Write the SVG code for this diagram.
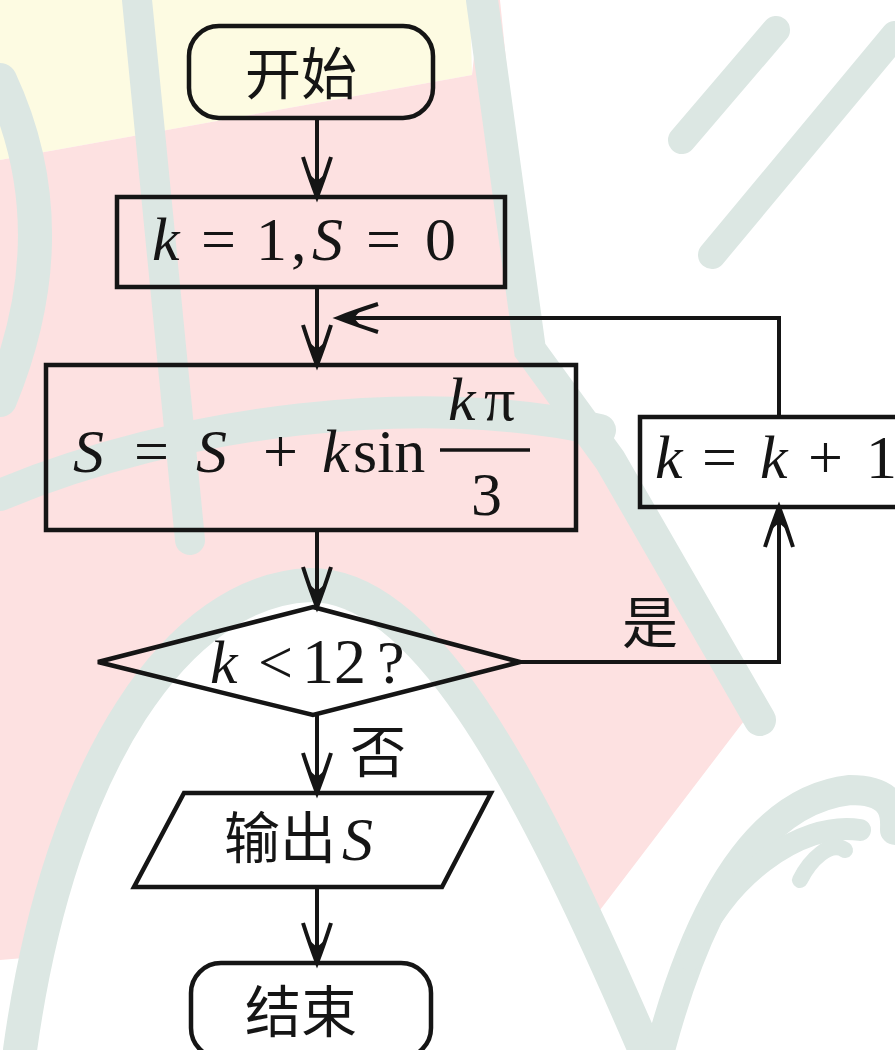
<svg xmlns="http://www.w3.org/2000/svg" width="895" height="1050" viewBox="0 0 895 1050">
<style>
.shape{fill:none;stroke:#151515;stroke-width:4.5;stroke-linejoin:miter}
.conn{fill:none;stroke:#151515;stroke-width:4;marker-end:url(#arr)}
.m{font-family:"Liberation Serif","DejaVu Serif",serif;font-size:62px;fill:#151515}
.i{font-style:italic}
.cjk{font-family:"Noto Sans CJK SC","Noto Sans",sans-serif;font-size:56px;fill:#151515}
.wm{fill:none;stroke:#dce7e3;stroke-linecap:round}
</style>
<defs>
<marker id="arr" markerUnits="userSpaceOnUse" viewBox="-2 -2 46 34" markerWidth="46" markerHeight="34" refX="40" refY="15" orient="auto" overflow="visible">
<path d="M0,1 Q22,8 40,15 Q22,22 0,29" fill="none" stroke="#151515" stroke-width="4"/>
<path d="M40,15 L18,8 L24,15 L18,22 Z" fill="#151515"/>
</marker>
</defs>
<g id="background">
<rect width="895" height="1050" fill="#ffffff"/>
<path d="M0,0 H470 L472,75 L0,160 Z" fill="#fdfbe2"/>
<path d="M0,160 L472,75 L480,0 L500,0 L535,350 L610,450 L760,700 L600,910 L0,960 Z" fill="#fde1e1"/>
<path d="M20,1050 C60,760 180,590 310,585 C420,585 520,760 645,1050 Z" fill="#ffffff"/>
<path class="wm" stroke-width="34" d="M20,1050 C60,760 180,590 310,585 C420,585 520,760 645,1050"/>
<path class="wm" stroke-width="32" d="M0,495 C180,420 420,390 600,430"/>
<path class="wm" stroke-width="30" d="M137,0 L190,540"/>
<path class="wm" stroke-width="32" d="M482,0 L530,350 L610,460 L760,720"/>
<path class="wm" stroke-width="34" d="M0,80 Q70,230 0,400"/>
<path class="wm" stroke-width="28" d="M776,30 L682,140"/>
<path class="wm" stroke-width="28" d="M895,35 L712,255"/>
<path class="wm" stroke-width="30" d="M660,1050 C700,900 760,800 850,790 C900,790 895,820 895,830"/>
<path class="wm" stroke-width="22" d="M690,960 C720,880 800,820 860,830"/>
<path class="wm" stroke-width="16" d="M800,880 C810,860 830,840 845,850"/>
</g>
<g id="connectors">
<path class="conn" d="M317,118 V197"/>
<path class="conn" d="M317,287 V365"/>
<path class="conn" d="M779,417 V318 H338"/>
<path class="conn" d="M317,530 V607"/>
<path class="conn" d="M520,662 H779 V507"/>
<path class="conn" d="M317,715 V793"/>
<path class="conn" d="M317,887 V963"/>
<text class="cjk" x="622" y="643">是</text>
<text class="cjk" x="350" y="772">否</text>
</g>
<g id="start">
<rect class="shape" x="189" y="26" width="244" height="92" rx="30"/>
<text class="cjk" x="245" y="94" font-size="60">开始</text>
</g>
<g id="init">
<rect class="shape" x="117" y="197" width="388" height="90"/>
<text class="m" y="260"><tspan class="i" x="152">k</tspan><tspan x="201">=</tspan><tspan x="256">1</tspan><tspan x="291">,</tspan><tspan class="i" x="312">S</tspan><tspan x="366">=</tspan><tspan x="425">0</tspan></text>
</g>
<g id="update-s">
<rect class="shape" x="46" y="365" width="530" height="165"/>
<text class="m" y="472"><tspan class="i" x="73">S</tspan><tspan x="134">=</tspan><tspan class="i" x="196">S</tspan><tspan x="263">+</tspan><tspan class="i" x="322">k</tspan><tspan x="353">sin</tspan></text>
<text class="m" y="420" font-size="58"><tspan class="i" x="448">k</tspan><tspan x="484">π</tspan></text>
<line x1="440" y1="450" x2="530" y2="450" stroke="#151515" stroke-width="3.5"/>
<text class="m" x="471" y="515">3</text>
</g>
<g id="increment">
<rect class="shape" x="640" y="417" width="280" height="90"/>
<text class="m" y="478" font-size="58"><tspan class="i" x="655">k</tspan><tspan x="702">=</tspan><tspan class="i" x="760">k</tspan><tspan x="808">+</tspan><tspan x="866">1</tspan></text>
</g>
<g id="decision">
<path class="shape" d="M313,607 L520,662 L313,715 L98,662 Z"/>
<text class="m" y="683"><tspan class="i" x="210">k</tspan><tspan x="258">&lt;</tspan><tspan x="302" font-size="64">12</tspan><tspan x="377">?</tspan></text>
</g>
<g id="output">
<path class="shape" d="M184,793 H491 L442,887 H134 Z"/>
<text class="cjk" x="224" y="858">输出</text>
<text class="m i" x="342" y="860">S</text>
</g>
<g id="end">
<rect class="shape" x="191" y="963" width="240" height="95" rx="30"/>
<text class="cjk" x="245" y="1032" font-size="60">结束</text>
</g>
</svg>
